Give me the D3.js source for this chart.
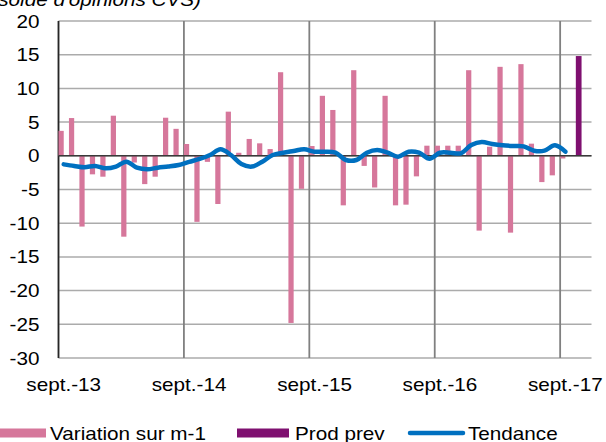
<!DOCTYPE html>
<html>
<head>
<meta charset="utf-8">
<script src="https://cdn.jsdelivr.net/npm/d3@7/dist/d3.min.js"></script>
<style>
body { margin: 0; background: #fff; }
text { font-family: "Liberation Sans", Arial, sans-serif; fill: #000; }
</style>
</head>
<body>
<div id="chart"></div>
<script>
// monthly categories, sept.-13 .. nov.-17
var months = d3.timeMonth.range(new Date(2013, 8, 1), new Date(2017, 11, 1));

// Variation sur m-1 (sept.-13 .. sept.-17)
var variation = [3.7, 5.6, -10.5, -2.75, -3.1, 5.95, -12.0, -1.0, -4.2, -3.1, 5.65, 4.0,
    1.75, -9.8, -0.9, -7.15, 6.55, 0.45, 2.5, 1.85, 1.0, 12.4, -24.8, -4.9,
    1.45, 8.9, 6.8, -7.35, 12.7, -1.5, -4.7, 8.9, -7.35, -7.25, -3.05, 1.5,
    1.5, 1.5, 1.5, 12.7, -11.1, 1.35, 13.2, -11.4, 13.6, 1.8, -3.9, -2.9, -0.4];

// Prod prev (oct.-17)
var prodPrev = [14.8];
var prodPrevStart = 49;

// Tendance (sept.-13 .. sept.-17)
var tendance = [-1.27, -1.5, -1.7, -1.5, -1.86, -1.6, -0.87, -1.76, -2.0, -1.76, -1.6, -1.37,
    -0.9, -0.47, 0.12, 0.96, 0.12, -1.22, -1.6, -0.87, 0.12, 0.46, 0.71, 0.96,
    0.61, 0.61, 0.46, -0.62, -0.62, 0.46, 0.86, 0.46, -0.13, 0.61, 0.46, -0.42,
    0.46, 0.46, 0.37, 1.6, 2.05, 1.75, 1.55, 1.45, 1.4, 0.76, 0.76, 1.55, 0.61];

var tickLabels = ["sept.-13", "sept.-14", "sept.-15", "sept.-16", "sept.-17"];
var tickMonths = [0, 12, 24, 36, 48];
var yTicks = [20, 15, 10, 5, 0, -5, -10, -15, -20, -25, -30];

var width = 606, height = 442;
var stretch = 1.15;   // glyphs in the original are a bit wide

var svg = d3.select('#chart').append('svg')
    .attr('width', width)
    .attr('height', height);

var x = d3.scaleBand()
    .domain(d3.range(months.length))
    .range([58.5, 591.5])
    .padding(0);

var y = d3.scaleLinear()
    .domain([-30, 20])
    .range([358, 21]);

var bw = x.bandwidth();

function label(sel, px, py, str, anchor) {
    return sel.append('text')
        .attr('transform', 'translate(' + px + ',' + py + ') scale(' + stretch + ',1)')
        .attr('text-anchor', anchor)
        .style('font-size', '18px')
        .text(str);
}

// horizontal gridlines
svg.append('g').selectAll('line')
    .data(yTicks)
    .enter().append('line')
    .attr('x1', 58.5).attr('x2', 591.5)
    .attr('y1', function (d) { return y(d); })
    .attr('y2', function (d) { return y(d); })
    .attr('stroke', '#ababab')
    .attr('stroke-width', 1.5);

// vertical gridlines at each september
svg.append('g').selectAll('line')
    .data(tickMonths)
    .enter().append('line')
    .attr('x1', function (d) { return x(d); })
    .attr('x2', function (d) { return x(d); })
    .attr('y1', y(20)).attr('y2', y(-30))
    .attr('stroke', '#808080')
    .attr('stroke-width', 1.8);

// left axis line
svg.append('line')
    .attr('x1', 58.5).attr('x2', 58.5)
    .attr('y1', y(20)).attr('y2', y(-30))
    .attr('stroke', '#262626')
    .attr('stroke-width', 1.5);

// Variation bars
svg.append('g').selectAll('rect')
    .data(variation)
    .enter().append('rect')
    .attr('x', function (d, i) { return x(i); })
    .attr('width', bw / 2)
    .attr('y', function (d) { return y(Math.max(0, d)); })
    .attr('height', function (d) { return Math.abs(y(d) - y(0)); })
    .attr('fill', '#d6779b');

// Prod prev bar
svg.append('g').selectAll('rect')
    .data(prodPrev)
    .enter().append('rect')
    .attr('x', function (d, i) { return x(prodPrevStart + i) + bw / 2; })
    .attr('width', bw / 2 + 0.5)
    .attr('y', function (d) { return y(Math.max(0, d)); })
    .attr('height', function (d) { return Math.abs(y(d) - y(0)); })
    .attr('fill', '#7f1070');

// zero line
svg.append('line')
    .attr('x1', 58.5).attr('x2', 591.5)
    .attr('y1', y(0)).attr('y2', y(0))
    .attr('stroke', '#3a3a3a')
    .attr('stroke-width', 1.5);

// Tendance line
var line = d3.line()
    .x(function (d, i) { return x(i) + bw / 2; })
    .y(function (d) { return y(d); })
    .curve(d3.curveCatmullRom.alpha(0.5));

svg.append('path')
    .datum(tendance)
    .attr('d', line)
    .attr('fill', 'none')
    .attr('stroke', '#0070c0')
    .attr('stroke-width', 4.5)
    .attr('stroke-linecap', 'round')
    .attr('stroke-linejoin', 'round');

// y tick labels
yTicks.forEach(function (t) {
    label(svg, 39.5, y(t) + 6.5, String(t), 'end');
});

// x tick labels
tickMonths.forEach(function (m, i) {
    label(svg, x(m) + bw / 2, 391, tickLabels[i], 'middle');
});

// title, cut off at the top as in the original
label(svg, 201, 6, "(solde d'opinions CVS)", 'end')
    .style('font-style', 'italic');

// legend
var ly = 433;
svg.append('rect').attr('x', -2).attr('y', ly - 4.5).attr('width', 48).attr('height', 9).attr('fill', '#d6779b');
label(svg, 50, ly + 6.5, 'Variation sur m-1', 'start');
svg.append('rect').attr('x', 237).attr('y', ly - 4.5).attr('width', 52).attr('height', 9).attr('fill', '#7f1070');
label(svg, 295, ly + 6.5, 'Prod prev', 'start');
svg.append('line').attr('x1', 410).attr('x2', 463).attr('y1', ly).attr('y2', ly)
    .attr('stroke', '#0070c0').attr('stroke-width', 4.5).attr('stroke-linecap', 'round');
label(svg, 468, ly + 6.5, 'Tendance', 'start');
</script>
</body>
</html>
